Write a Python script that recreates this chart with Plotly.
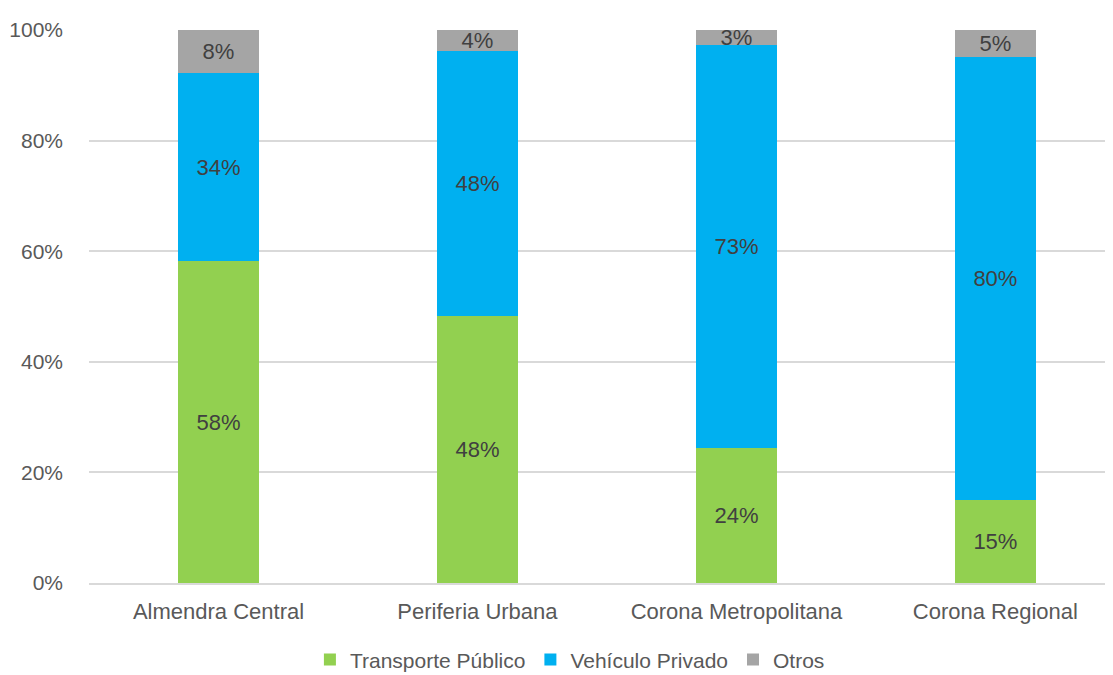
import plotly.graph_objects as go

zonas = ["Almendra Central", "Periferia Urbana", "Corona Metropolitana", "Corona Regional"]
transporte_publico = [58.2, 48.3, 24.4, 15.0]
vehiculo_privado = [34.0, 47.9, 72.9, 80.1]
otros = [7.8, 3.8, 2.7, 4.9]

FONT = "Liberation Sans Narrow, Arial Narrow, Liberation Sans, Arial, sans-serif"
series = [
    ("Transporte Público", transporte_publico, "#92D050"),
    ("Vehículo Privado", vehiculo_privado, "#00B0F0"),
    ("Otros", otros, "#A5A5A5"),
]

fig = go.Figure()
for name, vals, color in series:
    fig.add_bar(
        x=zonas,
        y=vals,
        name=name,
        marker_color=color,
        marker_line_width=0,
        width=0.313,
        texttemplate="%{y:.0f}%",
        textposition="inside",
        insidetextanchor="middle",
        constraintext="none",
        textfont=dict(family=FONT, size=22, color="#404040"),
    )

# the page body adds an 8px offset, margins compensate for it
fig.update_layout(
    barmode="stack",
    width=1113,
    height=675,
    margin=dict(l=81, r=0, t=22, b=100),
    plot_bgcolor="white",
    paper_bgcolor="white",
    font=dict(family=FONT, size=21, color="#595959"),
    legend=dict(
        orientation="h",
        x=0.466,
        xanchor="center",
        y=-0.139,
        yanchor="middle",
        font=dict(size=21, color="#595959"),
        itemwidth=30,
        traceorder="normal",
    ),
)
fig.update_xaxes(
    range=[-0.5, 3.485],
    showline=True,
    linecolor="#D9D9D9",
    linewidth=2,
    ticks="",
    tickfont=dict(size=22),
    automargin=False,
    ticklabelstandoff=8,
)
fig.update_yaxes(
    range=[0, 100],
    dtick=20,
    ticksuffix="%",
    showgrid=True,
    gridcolor="#D9D9D9",
    gridwidth=2,
    zeroline=False,
    tickfont=dict(size=21),
    automargin=False,
    ticklabelstandoff=25,
)

fig.write_html("out.html")
